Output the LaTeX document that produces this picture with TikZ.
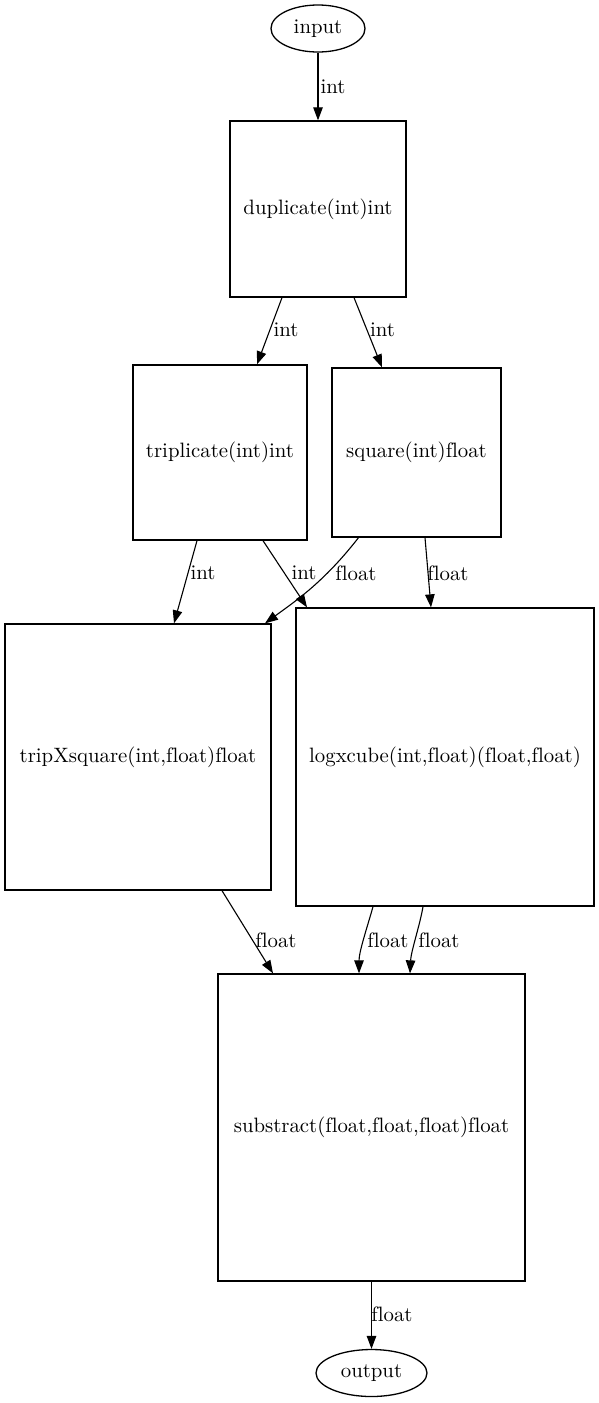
\documentclass[tikz,border=0pt]{standalone}
\usepackage{fontspec}
\setmainfont{lmroman10}[Extension=.otf, UprightFont=*-regular, Ligatures=CommonOff]
\usepackage{tikz}
\usetikzlibrary{shapes.geometric,arrows.meta}

\tikzset{
    fn/.style={rectangle, draw, line width=1.3pt, inner sep=0pt},
    io/.style={ellipse, draw, line width=1.3pt, inner sep=0pt},
    lab/.style={inner sep=0pt},
    flow/.style={line width=1.1pt, -{Triangle[length=13pt,width=9.5pt]}}
}

\begin{document}
\begin{tikzpicture}[x=1pt, y=-1pt, font=\fontsize{20.8}{24}\selectfont]

    \useasboundingbox (0,0) rectangle (599,1403);

    % nodes
    \node[io, minimum width=94pt, minimum height=47pt] (in) at (318,28.5) {input};
    \node[fn, minimum width=176pt, minimum height=176pt] (dup) at (318,209) {duplicate(int)int};
    \node[fn, minimum width=174pt, minimum height=175pt] (tri) at (220,452.5) {triplicate(int)int};
    \node[fn, minimum width=169pt, minimum height=169pt] (sq) at (416.5,452.5) {square(int)float};
    \node[fn, minimum width=266pt, minimum height=266pt] (txs) at (138,757) {tripXsquare(int,float)float};
    \node[fn, minimum width=298pt, minimum height=298pt] (log) at (445,757) {logxcube(int,float)(float,float)};
    \node[fn, minimum width=307pt, minimum height=307pt] (sub) at (371.5,1127.5) {substract(float,float,float)float};
    \node[io, minimum width=111pt, minimum height=47pt] (out) at (371.5,1373) {output};

    % edges
    \draw[flow] (in.south) -- (dup.north);
    \draw[flow] ([xshift=-36pt]dup.south) -- ([xshift=37pt]tri.north);
    \draw[flow] ([xshift=36pt]dup.south) -- ([xshift=-34.5pt]sq.north);
    \draw[flow] ([xshift=-23pt]tri.south) -- ([xshift=36pt]txs.north);
    \draw[flow] ([xshift=43pt]tri.south) -- ([xshift=-138pt]log.north);
    \draw[flow] ([xshift=-58pt]sq.south) .. controls +(-35,45) and +(30,-22) .. ([xshift=127pt]txs.north);
    \draw[flow] ([xshift=8.5pt]sq.south) -- ([xshift=-14pt]log.north);
    \draw[flow] ([xshift=84pt]txs.south) -- ([xshift=-98.5pt]sub.north);
    \draw[flow] ([xshift=-72pt]log.south) .. controls +(-5,18) and +(0,-22) .. ([xshift=-12.5pt]sub.north);
    \draw[flow] ([xshift=-22pt]log.south) .. controls +(-3,18) and +(1,-22) .. ([xshift=38.5pt]sub.north);
    \draw[flow] (sub.south) -- (out.north);

    % edge labels
    \node[lab] (l1) at (333,87) {int};
    \node[lab] (l2) at (286,330) {int};
    \node[lab] (l3) at (382.5,330) {int};
    \node[lab] (l4) at (203,573) {int};
    \node[lab] (l5) at (304,573) {int};
    \node[lab] (l6) at (356,573) {float};
    \node[lab] (l7) at (448,573) {float};
    \node[lab] (l8) at (276,940) {float};
    \node[lab] (l9) at (388,940) {float};
    \node[lab] (l10) at (439,940) {float};
    \node[lab] (l11) at (392,1314) {float};

\end{tikzpicture}
\end{document}
